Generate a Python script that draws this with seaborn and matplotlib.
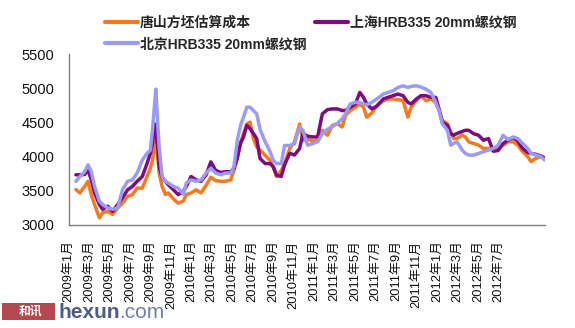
import numpy as np
import pandas as pd
import matplotlib
matplotlib.use("Agg")
import matplotlib.pyplot as plt
import matplotlib.dates as mdates
from matplotlib.patches import Rectangle
import seaborn as sns

# ---------------- data ----------------
dates = [
    "2009-01-01", "2009-01-12", "2009-01-25", "2009-02-03", "2009-02-12", "2009-02-21",
    "2009-03-06", "2009-03-15", "2009-03-29", "2009-04-11", "2009-04-25", "2009-05-08",
    "2009-05-22", "2009-06-04", "2009-06-17", "2009-07-01", "2009-07-14", "2009-07-23",
    "2009-07-29", "2009-08-04", "2009-08-07", "2009-08-12", "2009-08-16", "2009-08-24",
    "2009-09-02", "2009-09-10", "2009-09-24", "2009-10-07", "2009-10-21", "2009-10-29",
    "2009-11-11", "2009-11-25", "2009-12-08", "2009-12-22", "2010-01-04", "2010-01-17",
    "2010-01-31", "2010-02-13", "2010-02-27", "2010-03-08", "2010-03-17", "2010-03-26",
    "2010-04-03", "2010-04-12", "2010-04-21", "2010-04-30", "2010-05-09", "2010-05-18",
    "2010-06-01", "2010-06-14", "2010-06-23", "2010-07-02", "2010-07-15", "2010-07-24",
    "2010-08-07", "2010-08-20", "2010-09-03", "2010-09-12", "2010-09-25", "2010-10-09",
    "2010-10-22", "2010-11-04", "2010-11-18", "2010-12-01", "2010-12-15", "2010-12-28",
    "2011-01-06", "2011-01-19", "2011-02-02", "2011-02-14", "2011-02-24", "2011-03-05",
    "2011-03-19", "2011-04-01", "2011-04-19", "2011-05-02", "2011-05-16", "2011-05-29",
    "2011-06-12", "2011-06-25", "2011-07-04", "2011-07-18", "2011-07-31", "2011-08-13",
    "2011-08-27", "2011-09-09", "2011-09-18", "2011-09-27", "2011-10-11", "2011-10-20",
    "2011-10-28", "2011-11-06", "2011-11-20", "2011-11-29", "2011-12-08", "2011-12-21",
    "2012-01-04", "2012-01-17", "2012-01-31", "2012-02-13", "2012-02-26", "2012-03-11",
    "2012-03-24", "2012-04-07", "2012-04-20", "2012-05-03", "2012-05-17", "2012-05-26",
    "2012-06-08", "2012-06-22", "2012-07-02",
]

tangshan_cost = [
    3520, 3470, 3565, 3640, 3445, 3300, 3105, 3180, 3200, 3155, 3250, 3320,
    3420, 3445, 3540, 3540, 3710, 3830, 3950, 4215, 4150, 4000, 3760, 3565,
    3445, 3470, 3380, 3320, 3350, 3445, 3470, 3515, 3470, 3580, 3700, 3650,
    3640, 3640, 3660, 3805, 3980, 4200, 4340, 4480, 4505, 4265, 4145, 4100,
    4020, 3950, 3850, 3710, 3800, 3900, 4120, 4215, 4480, 4240, 4260, 4230,
    4240, 4387, 4314, 4459, 4483, 4435, 4604, 4676, 4725, 4773, 4725, 4580,
    4640, 4740, 4820, 4845, 4845, 4835, 4825, 4580, 4725, 4821, 4894, 4821,
    4845, 4797, 4676, 4531, 4483, 4362, 4266, 4266, 4314, 4290, 4218, 4194,
    4169, 4121, 4121, 4097, 4145, 4169, 4218, 4218, 4169, 4073, 4000, 3928,
    3976, 4000, 3990,
]

shanghai_hrb335 = [
    3735, 3735, 3740, 3810, 3660, 3470, 3300, 3230, 3275, 3200, 3300, 3400,
    3515, 3565, 3640, 3710, 3900, 4050, 4200, 4480, 4350, 4150, 3855, 3700,
    3640, 3590, 3515, 3445, 3495, 3565, 3710, 3660, 3640, 3735, 3925, 3800,
    3770, 3780, 3780, 3830, 3980, 4200, 4290, 4460, 4410, 4340, 4265, 3975,
    3900, 3900, 3855, 3730, 3710, 3880, 4050, 4025, 4120, 4340, 4300, 4290,
    4290, 4628, 4690, 4700, 4700, 4676, 4676, 4725, 4773, 4942, 4870, 4773,
    4700, 4740, 4845, 4870, 4894, 4918, 4894, 4797, 4773, 4845, 4894, 4894,
    4870, 4870, 4700, 4507, 4459, 4338, 4314, 4340, 4370, 4387, 4387, 4338,
    4314, 4242, 4266, 4080, 4090, 4194, 4242, 4280, 4230, 4121, 4060, 4048,
    4035, 4010, 3976,
]

beijing_hrb335 = [
    3640, 3710, 3780, 3880, 3780, 3565, 3350, 3300, 3250, 3230, 3250, 3515,
    3640, 3660, 3760, 3950, 4050, 4095, 4400, 4800, 4990, 4500, 4145, 3710,
    3640, 3615, 3565, 3540, 3450, 3615, 3660, 3640, 3660, 3760, 3830, 3760,
    3735, 3760, 3760, 3855, 4240, 4460, 4580, 4725, 4725, 4675, 4630, 4400,
    4220, 4080, 3950, 3900, 3900, 4165, 4165, 4190, 4435, 4385, 4169, 4194,
    4218, 4338, 4400, 4440, 4490, 4556, 4628, 4773, 4797, 4797, 4773, 4760,
    4797, 4845, 4918, 4942, 4966, 5014, 5039, 5014, 5030, 5039, 5020, 4990,
    4940, 4797, 4676, 4483, 4387, 4169, 4194, 4218, 4100, 4048, 4024, 4024,
    4048, 4073, 4097, 4121, 4169, 4314, 4250, 4290, 4266, 4194, 4121, 4048,
    4024, 4000, 3952,
]

series_names = ["唐山方坯估算成本", "上海HRB335 20mm螺纹钢", "北京HRB335 20mm螺纹钢"]
series_colors = ["#F47A20", "#7E0C7E", "#9B9BF5"]

tick_dates = pd.date_range("2009-01-01", "2012-07-01", freq="2MS")
tick_labels = [f"{d.year}年{d.month}月" for d in tick_dates]

y_ticks = [3000, 3500, 4000, 4500, 5000, 5500]

# ---------------- frame ----------------
df = pd.DataFrame({
    "date": pd.to_datetime(dates),
    series_names[0]: tangshan_cost,
    series_names[1]: shanghai_hrb335,
    series_names[2]: beijing_hrb335,
})
long = df.melt(id_vars="date", var_name="series", value_name="price")

sns.set_theme(style="white")
plt.rcParams["font.family"] = ["Liberation Sans", "Noto Sans CJK SC", "DejaVu Sans"]

W, H = 575, 328
fig = plt.figure(figsize=(W / 100, H / 100), dpi=100)
ax = fig.add_axes([68.5 / W, 1 - 225 / H, (545 - 68.5) / W, (225 - 54.3) / H])

sns.lineplot(data=long, x="date", y="price", hue="series", hue_order=series_names,
             palette=series_colors, linewidth=2.5, ax=ax, legend=False)

xmin = pd.Timestamp("2009-01-01")
xmax = pd.Timestamp("2012-07-03")
ax.set_xlim(xmin, xmax)
ax.set_ylim(3000, 5500)
ax.set_xlabel("")
ax.set_ylabel("")

# y axis
ax.set_yticks(y_ticks)
ax.set_yticklabels([str(v) for v in y_ticks], fontsize=10.5, color="#111111")
ax.tick_params(axis="y", direction="in", length=5, width=0.8, color="#777777", pad=10)

# x axis: tick marks at 2-month intervals, labels spread as in the reference
ax.xaxis.remove_overlapping_locs = False
ax.set_xticks(mdates.date2num(tick_dates))
ax.set_xticklabels([])
ax.tick_params(axis="x", which="major", direction="in", length=4, width=0.8, color="#777777")
x0, x1 = mdates.date2num(xmin), mdates.date2num(xmax)
frac = np.linspace(-7.5, 429, len(tick_labels)) / 476.5
ax.set_xticks(x0 + frac * (x1 - x0), minor=True)
ax.set_xticklabels(tick_labels, minor=True, rotation=90, fontsize=9.3, color="#111111")
ax.tick_params(axis="x", which="minor", length=0, pad=11)

for s in ["top", "right"]:
    ax.spines[s].set_visible(False)
for s in ["left", "bottom"]:
    ax.spines[s].set_color("#808080")
    ax.spines[s].set_linewidth(1.0)
ax.grid(False)

# legend
handles = [plt.Line2D([], [], color=series_colors[i], linewidth=3) for i in (0, 2, 1)]
labels = [series_names[i] for i in (0, 2, 1)]
leg = fig.legend(handles, labels, ncol=2, loc="upper left",
                 bbox_to_anchor=(92 / W, 1 - 3 / H), frameon=False,
                 prop={"family": ["Liberation Sans", "Noto Sans CJK SC"], "size": 10, "weight": "bold"},
                 handlelength=2.4, handletextpad=0.15, columnspacing=0.6, labelspacing=0.55)

# watermark
fig.patches.append(Rectangle((2 / W, 1 - 320 / H), 53 / W, 17 / H, transform=fig.transFigure,
                             facecolor="#B5484E", edgecolor="none", zorder=5))
fig.text(19 / W, 1 - 311.5 / H, "和讯", fontsize=8.5, color="white", va="center", ha="left",
         family=["Noto Sans CJK SC"], weight="bold", zorder=6)
t1 = fig.text(58 / W, 1 - 313 / H, "hexun", fontsize=15, color="#4C5C86", va="center",
              ha="left", weight="bold", zorder=6)
fig.canvas.draw()
bb = t1.get_window_extent(fig.canvas.get_renderer())
fig.text(bb.x1 / fig.bbox.width, 1 - 313 / H, ".com", fontsize=15, color="#7080A8",
         va="center", ha="left", zorder=6)

fig.savefig("out.png", dpi=100)
